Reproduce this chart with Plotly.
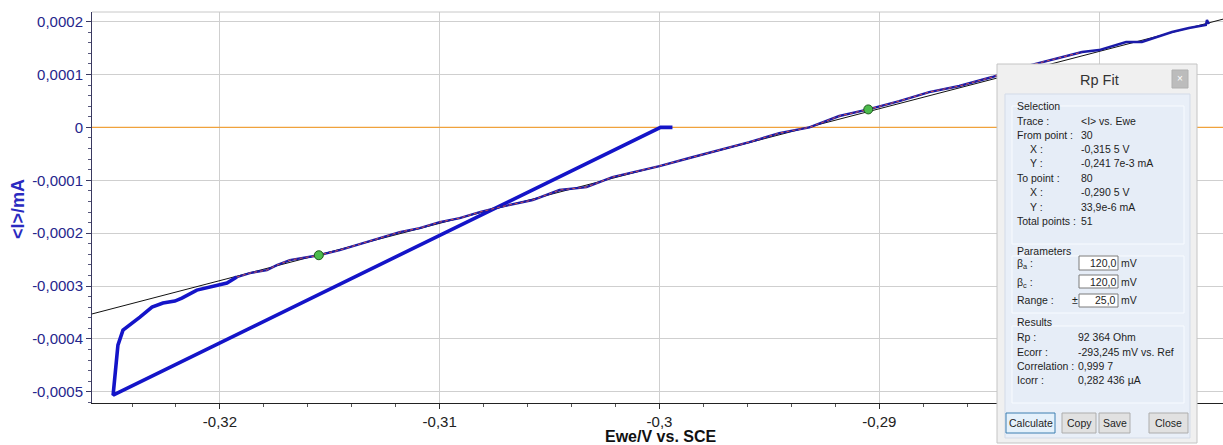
import plotly.graph_objects as go

# Linear polarisation scan: potential (V vs. SCE) and mean current (mA), in acquisition order
ewe = [-0.29941, -0.29995, -0.32486, -0.32473, -0.32464, -0.32441, -0.32409, -0.32364,
       -0.32309, -0.32259, -0.32205, -0.32173, -0.32105, -0.32032, -0.31968, -0.31923,
       -0.31864, -0.31786, -0.31741, -0.31682, -0.31623, -0.31550, -0.31455, -0.31364,
       -0.31273, -0.31182, -0.31091, -0.31000, -0.30909, -0.30818, -0.30727, -0.30636,
       -0.30577, -0.30455, -0.30332, -0.30214, -0.30091, -0.30000, -0.29864, -0.29727,
       -0.29591, -0.29455, -0.29318, -0.29182, -0.29050, -0.28909, -0.28773, -0.28636,
       -0.28486, -0.28364, -0.28273, -0.28182, -0.28077, -0.28000, -0.27877, -0.27805,
       -0.27727, -0.27668, -0.27591, -0.27514, -0.27509, -0.27500]
cur = [0.0, 0.0, -0.0005061, -0.0004588, -0.0004115, -0.0003832, -0.0003737, -0.0003586,
       -0.0003397, -0.0003321, -0.0003284, -0.0003227, -0.0003076, -0.0003000, -0.0002943, -0.0002830,
       -0.0002754, -0.0002698, -0.0002603, -0.0002509, -0.0002471, -0.0002417, -0.0002320, -0.0002206,
       -0.0002093, -0.0001979, -0.0001904, -0.0001790, -0.0001715, -0.0001601, -0.0001507, -0.0001431,
       -0.0001374, -0.0001185, -0.0001129, -0.0000940, -0.0000826, -0.0000732, -0.0000580, -0.0000429,
       -0.0000278, -0.0000108, 0.0000000, 0.0000214, 0.0000339, 0.0000497, 0.0000667, 0.0000781,
       0.0000951, 0.0001121, 0.0001216, 0.0001310, 0.0001423, 0.0001461, 0.0001613, 0.0001613,
       0.0001726, 0.0001802, 0.0001877, 0.0001934, 0.0002028, 0.0001953]

# Rp fit selection and results
sel_x = [-0.3155, -0.2905]
sel_y = [-0.2417e-3, 33.9e-6]
rp_ohm = 92364
ecorr_v = -0.293245

x_range = [-0.32582, -0.27436]
y_range = [-0.000521, 0.000218]
# the -0,28 label sits behind the dialog, so only its grid line is kept
x_ticks = [-0.32, -0.31, -0.30, -0.29, -0.28]
x_labels = ["-0,32", "-0,31", "-0,3", "-0,29", ""]
y_ticks = [0.0002, 0.0001, 0.0, -0.0001, -0.0002, -0.0003, -0.0004, -0.0005]
y_labels = ["0,0002", "0,0001", "0", "-0,0001", "-0,0002", "-0,0003", "-0,0004", "-0,0005"]

W, H = 1223, 445
ML, MR, MT, MB = 92, 0, 12, 42

def px(x):
    return (x - ML) / (W - ML - MR)

def py(y):
    return (H - MB - y) / (H - MT - MB)

fig = go.Figure()

# zero-current reference
fig.add_trace(go.Scatter(x=x_range, y=[0, 0], mode="lines",
                         line=dict(color="#f0a23c", width=1.2), hoverinfo="skip"))

# fitted line I = (E - Ecorr) / Rp, in mA
fit_x = x_range
fit_y = [(e - ecorr_v) / rp_ohm * 1000 for e in fit_x]
fig.add_trace(go.Scatter(x=fit_x, y=fit_y, mode="lines",
                         line=dict(color="#111111", width=1), hoverinfo="skip"))

# scan: return sweep drawn heavier, forward branch lighter
split = 15
fig.add_trace(go.Scatter(x=ewe[:split + 1], y=cur[:split + 1], mode="lines",
                         line=dict(color="#1414c8", width=3.6), hoverinfo="skip"))
fig.add_trace(go.Scatter(x=ewe[split:], y=cur[split:], mode="lines",
                         line=dict(color="#1a1aa8", width=2.4), hoverinfo="skip"))
fig.add_trace(go.Scatter(x=ewe[split:53], y=cur[split:53], mode="lines",
                         line=dict(color="#d05050", width=1, dash="dot"), hoverinfo="skip"))

# selected fit limits
fig.add_trace(go.Scatter(x=sel_x, y=sel_y, mode="markers",
                         marker=dict(color="#4cbb4c", size=9, line=dict(color="#1d5a1d", width=1)),
                         hoverinfo="skip"))

shapes = []
annotations = []
UI_FONT = "Liberation Sans, Arial, sans-serif"

def rect(x0, y0, x1, y1, fill, line="#c8c8c8", width=1):
    shapes.append(dict(type="rect", xref="paper", yref="paper", layer="above",
                       x0=px(x0), x1=px(x1), y0=py(y1), y1=py(y0),
                       fillcolor=fill, line=dict(color=line, width=width)))

def text(x, y, s, anchor="left", size=10.5, color="#1e1e1e", angle=0):
    annotations.append(dict(xref="paper", yref="paper", x=px(x), y=py(y), text=s,
                            showarrow=False, xanchor=anchor, yanchor="middle",
                            textangle=angle, borderpad=0,
                            font=dict(size=size, color=color, family=UI_FONT)))

# top frame line of the plot area
shapes.append(dict(type="line", xref="paper", yref="paper", x0=0, x1=1, y0=1, y1=1,
                   line=dict(color="#c8c8c8", width=1)))

# axis titles
text(660, 436, "<b>Ewe/V vs. SCE</b>", anchor="center", size=16, color="#111111")
text(18, 209, "<b>&lt;I&gt;/mA</b>", anchor="center", size=18, color="#2a2ac0", angle=-90)

# "Rp Fit" dialog
rect(997, 64, 1197, 443, "#f0f0f0", "#c4c4c4")
rect(1172, 70, 1188, 88, "#bcbcbc", "#b0b0b0")
text(1180, 79, "×", anchor="center", size=10, color="#ffffff")
text(1099, 80, "Rp Fit", anchor="center", size=14.5, color="#333333")
rect(1005, 94, 1190, 438, "#e9eff8", "#d3dbe8")
rect(1012, 106, 1184, 244, "#e6edf7", "#f8fbff")
rect(1012, 256, 1184, 313, "#e6edf7", "#f8fbff")
rect(1012, 326, 1184, 403, "#e6edf7", "#f8fbff")

text(1016, 106, "Selection")
rows = [(121, "Trace :", "&lt;I&gt; vs. Ewe", 1016),
        (135, "From point :", "30", 1016),
        (149, "X :", "-0,315 5 V", 1029),
        (163, "Y :", "-0,241 7e-3 mA", 1029),
        (178, "To point :", "80", 1016),
        (192, "X :", "-0,290 5 V", 1029),
        (207, "Y :", "33,9e-6 mA", 1029),
        (221, "Total points :", "51", 1016)]
for y, lab, val, lx in rows:
    text(lx, y, lab)
    text(1080, y, val)

text(1016, 251, "Parameters")
text(1016, 264, "β<sub>a</sub> :")
text(1016, 283, "β<sub>c</sub> :")
text(1016, 300, "Range :")
text(1071, 300, "±")
for y0, y1, val, y in [(256, 270, "120,0", 263), (275, 288, "120,0", 282), (294, 307, "25,0", 300)]:
    rect(1079, y0, 1118, y1, "#ffffff", "#7a7a7a")
    text(1117, y, val, anchor="right")
    text(1120, y, "mV")

text(1016, 322, "Results")
for y, lab, val in [(337, "Rp :", "92 364 Ohm"),
                    (352, "Ecorr :", "-293,245 mV vs. Ref"),
                    (366, "Correlation :", "0,999 7"),
                    (380, "Icorr :", "0,282 436 µA")]:
    text(1016, y, lab)
    text(1077, y, val)

for x0, x1, lab, fill, edge in [(1006, 1055, "Calculate", "#e5f1fb", "#3c7fb1"),
                                (1062, 1096, "Copy", "#e1e1e1", "#adadad"),
                                (1099, 1130, "Save", "#e1e1e1", "#adadad"),
                                (1149, 1188, "Close", "#e1e1e1", "#adadad")]:
    rect(x0, 413, x1, 433, fill, edge)
    text((x0 + x1) / 2, 423, lab, anchor="center", size=10.5)

fig.update_layout(
    width=W, height=H,
    margin=dict(l=ML, r=MR, t=MT, b=MB, pad=0),
    paper_bgcolor="#ffffff", plot_bgcolor="#ffffff",
    showlegend=False,
    shapes=shapes, annotations=annotations,
    font=dict(family=UI_FONT),
)
fig.update_xaxes(
    range=x_range, tickmode="array", tickvals=x_ticks, ticktext=x_labels,
    showgrid=True, gridcolor="#cfcfcf", gridwidth=1, zeroline=False,
    showline=True, linecolor="#222222", linewidth=1,
    ticks="outside", ticklen=5, tickcolor="#333333",
    tickfont=dict(size=15, color="#222222"),
    minor=dict(tickmode="linear", tick0=-0.32, dtick=0.002, ticks="outside",
               ticklen=3, tickcolor="#555555", showgrid=False),
)
fig.update_yaxes(
    range=y_range, tickmode="array", tickvals=y_ticks, ticktext=y_labels,
    showgrid=True, gridcolor="#cfcfcf", gridwidth=1, zeroline=False,
    showline=True, linecolor="#3a3a60", linewidth=1,
    ticks="outside", ticklen=5, tickcolor="#3a3a60",
    tickfont=dict(size=15, color="#26268c"),
    minor=dict(tickmode="linear", tick0=0.0, dtick=0.00002, ticks="outside",
               ticklen=3, tickcolor="#55557a", showgrid=False),
)

fig.write_html("out.html")
